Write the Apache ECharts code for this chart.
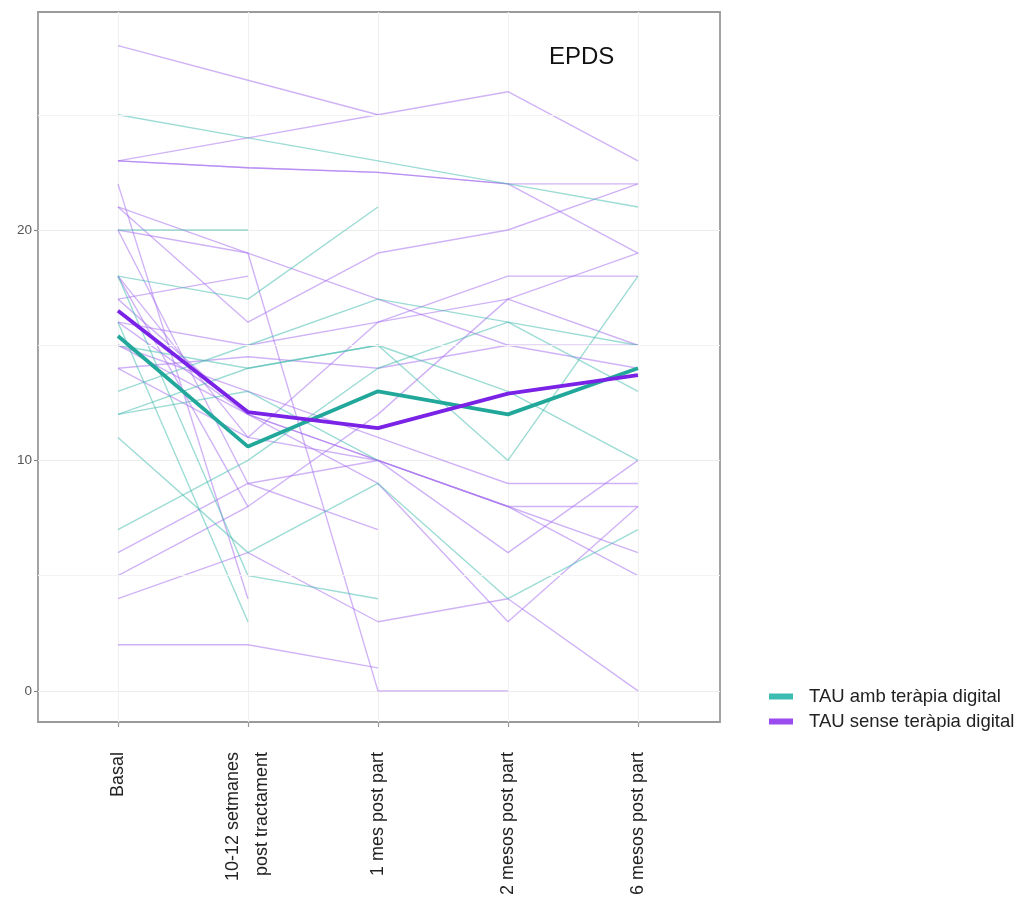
<!DOCTYPE html>
<html>
<head>
<meta charset="utf-8">
<script src="https://cdn.jsdelivr.net/npm/echarts@6/dist/echarts.min.js"></script>
<style>
  html, body { margin: 0; padding: 0; background: #fff; }
  #chart { width: 1021px; height: 900px; }
</style>
</head>
<body>
<div id="chart"></div>
<script>
// Time points of the EPDS follow-up
const categories = ['Basal', '10-12 setmanes\npost tractament', '1 mes post part', '2 mesos post part', '6 mesos post part'];
const positions = [0, 1, 2, 3, 4];

// Group means
const meanDigital = [15.4, 10.6, 13.0, 12.0, 14.0];
const meanNoDigital = [16.5, 12.1, 11.4, 12.9, 13.7];

// Individual trajectories, group with digital therapy (null = missing visit)
const digital1 = [25, 24, 23, 22, 21];
const digital2 = [20, 20, null, null, null];
const digital3 = [18, 17, 21, null, null];
const digital4 = [18, 5, 4, null, null];
const digital5 = [16, 3, null, null, null];
const digital6 = [15, 14, 15, 10, 18];
const digital7 = [13, 15, 17, 16, 13];
const digital8 = [12, 14, 15, 13, 10];
const digital9 = [12, 13, 10, null, null];
const digital10 = [11, 6, 9, 4, 7];
const digital11 = [7, 10, 14, 16, 15];

// Individual trajectories, group without digital therapy
const noDigital1 = [28, 26.5, 25, null, null];
const noDigital2 = [23, 24, 25, 26, 23];
const noDigital3 = [23, 22.7, 22.5, 22, 22];
const noDigital4 = [23, 22.7, 22.5, 22, 19];
const noDigital5 = [22, 4, null, null, null];
const noDigital6 = [21, 19, 0, 0, null];
const noDigital7 = [20, 19, 17, 15, 14];
const noDigital8 = [21, 16, 19, 20, 22];
const noDigital9 = [17, 18, null, null, null];
const noDigital10 = [16, 15, 16, 18, 18];
const noDigital11 = [18, 11, 16, 17, 15];
const noDigital12 = [14, 14.5, 14, 15, 15];
const noDigital13 = [15, 13, 11, 9, 9];
const noDigital14 = [16, 12, 10, 8, 8];
const noDigital15 = [14, 11, 10, 6, 10];
const noDigital16 = [17, 12, 10, 8, 6];
const noDigital17 = [15, 12, 9, 3, 8];
const noDigital18 = [18, 8, null, null, null];
const noDigital19 = [20, 9, 7, null, null];
const noDigital20 = [6, 9, 10, 8, 5];
const noDigital21 = [5, 8, 12, 17, 19];
const noDigital22 = [4, 6, 3, 4, 0];
const noDigital23 = [2, 2, 1, null, null];

const yTicks = [0, 10, 20];
const yMinorTicks = [5, 15, 25];

const digitalLines = [digital1, digital2, digital3, digital4, digital5, digital6, digital7, digital8, digital9, digital10, digital11];
const noDigitalLines = [noDigital1, noDigital2, noDigital3, noDigital4, noDigital5, noDigital6, noDigital7, noDigital8,
  noDigital9, noDigital10, noDigital11, noDigital12, noDigital13, noDigital14, noDigital15, noDigital16, noDigital17,
  noDigital18, noDigital19, noDigital20, noDigital21, noDigital22, noDigital23];

const NAME_DIGITAL = 'TAU amb teràpia digital';
const NAME_NO_DIGITAL = 'TAU sense teràpia digital';
const FONT = 'Liberation Sans, Arial, sans-serif';

const toPoints = vals => vals.map((v, i) => [positions[i], v]);

function thinSeries(vals, color, idx) {
  return {
    type: 'line', name: 'ind' + idx, data: toPoints(vals),
    symbol: 'none', connectNulls: false, silent: true, z: 2,
    lineStyle: { color: color, width: 1.4 }
  };
}

const series = [];
// faint minor grid lines on the value axis
series.push({
  type: 'line', data: [], silent: true,
  markLine: {
    silent: true, symbol: 'none', label: { show: false },
    lineStyle: { color: '#f3f3f3', width: 1, type: 'solid' },
    data: yMinorTicks.map(v => ({ yAxis: v }))
  }
});
noDigitalLines.forEach((d, i) => series.push(thinSeries(d, 'rgba(165,110,240,0.52)', 'p' + i)));
digitalLines.forEach((d, i) => series.push(thinSeries(d, 'rgba(60,185,172,0.5)', 't' + i)));
series.push({
  type: 'line', name: NAME_DIGITAL, data: toPoints(meanDigital), symbol: 'none', z: 5,
  lineStyle: { color: '#22a89a', width: 3.8 }, itemStyle: { color: '#22a89a' }
});
series.push({
  type: 'line', name: NAME_NO_DIGITAL, data: toPoints(meanNoDigital), symbol: 'none', z: 6,
  lineStyle: { color: '#7a22e6', width: 3.8 }, itemStyle: { color: '#7a22e6' }
});

const chart = echarts.init(document.getElementById('chart'), null, { renderer: 'canvas' });
chart.setOption({
  animation: false,
  backgroundColor: '#ffffff',
  textStyle: { fontFamily: FONT },
  title: {
    text: 'EPDS', left: 544, top: 40,
    textStyle: { fontSize: 24, fontWeight: 'normal', color: '#111', fontFamily: FONT }
  },
  legend: {
    orient: 'vertical', left: 764, top: 681, itemWidth: 24, itemHeight: 6, itemGap: 4,
    icon: 'rect',
    textStyle: { fontSize: 18.5, lineHeight: 21, color: '#222', fontFamily: FONT, padding: [0, 0, 0, 11] },
    data: [
      { name: NAME_DIGITAL, itemStyle: { color: '#3dbdb2' } },
      { name: NAME_NO_DIGITAL, itemStyle: { color: '#9b4bef' } }
    ]
  },
  grid: {
    left: 38, right: 301, top: 12, bottom: 178, show: true,
    borderColor: '#9a9a9a', borderWidth: 1.8, containLabel: false
  },
  xAxis: {
    type: 'value', min: -0.615, max: 4.631,
    axisLine: { show: false, onZero: false },
    axisTick: { show: true, customValues: positions, length: 5, lineStyle: { color: '#999', width: 1.2 } },
    axisLabel: {
      customValues: positions, rotate: 90, margin: 30, fontSize: 18, color: '#222', lineHeight: 29,
      fontFamily: FONT,
      formatter: v => categories[Math.round(v)]
    },
    splitLine: { show: true, lineStyle: { color: '#f0f0f0', width: 1.2 } }
  },
  yAxis: {
    type: 'value', min: -1.35, max: 29.46,
    axisLine: { show: false, onZero: false },
    axisTick: { show: true, customValues: yTicks, length: 4, lineStyle: { color: '#888', width: 1.2 } },
    axisLabel: { customValues: yTicks, fontSize: 13.5, color: '#555', margin: 6, formatter: v => String(Math.round(v)) },
    splitLine: { show: true, lineStyle: { color: '#ececec', width: 1.2 } }
  },
  series: series
});
</script>
</body>
</html>
